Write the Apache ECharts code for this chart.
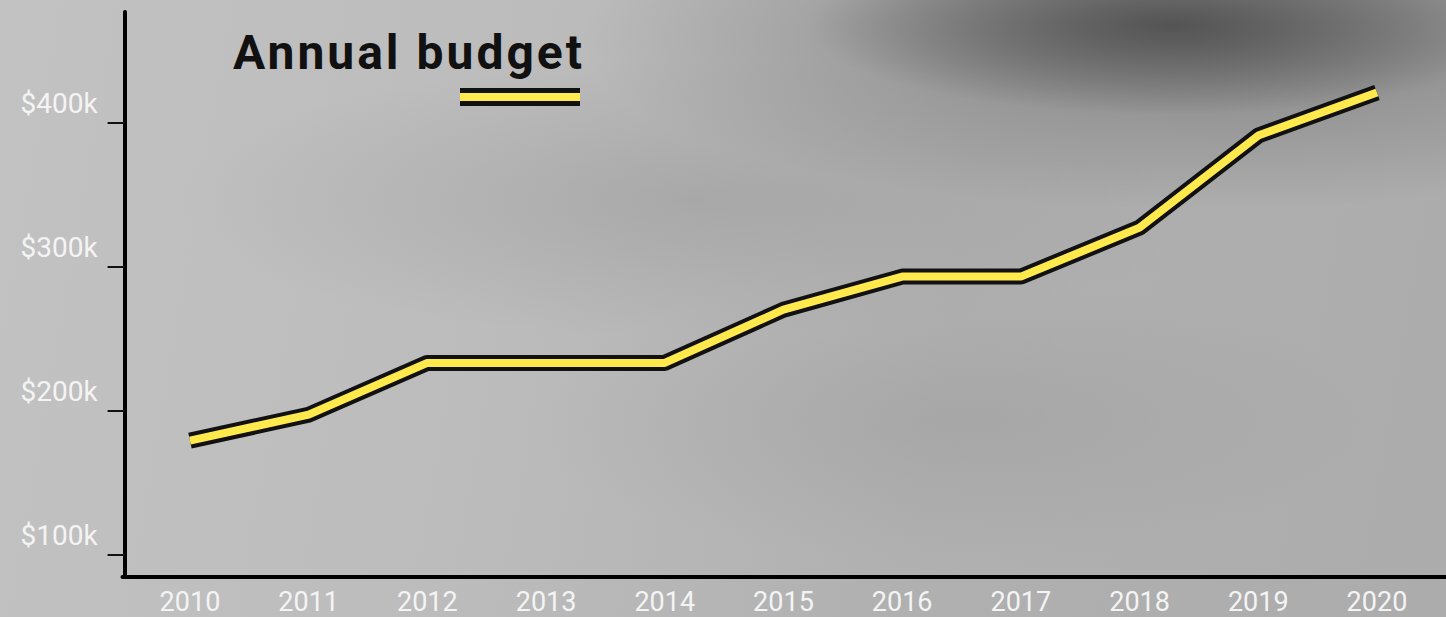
<!DOCTYPE html>
<html>
<head>
<meta charset="utf-8">
<script src="https://cdn.jsdelivr.net/npm/echarts@6/dist/echarts.min.js"></script>
<style>
  html, body { margin: 0; padding: 0; }
  #chart {
    width: 1446px; height: 617px;
    background:
      radial-gradient(ellipse 360px 90px at 1170px 25px, rgba(75,75,75,0.85), rgba(75,75,75,0) 100%),
      radial-gradient(ellipse 620px 170px at 1200px 40px, rgba(95,95,95,0.55), rgba(95,95,95,0) 100%),
      radial-gradient(ellipse 520px 140px at 700px 200px, rgba(140,140,140,0.35), rgba(140,140,140,0) 100%),
      radial-gradient(ellipse 420px 140px at 950px 420px, rgba(150,150,150,0.35), rgba(150,150,150,0) 100%),
      linear-gradient(100deg, #c2c2c2 0%, #bcbcbc 35%, #b0b0b0 65%, #acacac 100%);
  }
  #chart text[style*="48px"] { letter-spacing: 3px; }
</style>
</head>
<body>
<div id="chart"></div>
<script>
const categories = ['2010', '2011', '2012', '2013', '2014', '2015', '2016', '2017', '2018', '2019', '2020'];
const budget = [179, 197, 233, 233, 233, 270, 293, 293, 327, 391, 421];
const yTickValues = [100, 200, 300, 400];
const yTickLabels = ['$100k', '$200k', '$300k', '$400k'];

const iconSvg = 'data:image/svg+xml;charset=utf-8,' + encodeURIComponent(
  '<svg xmlns="http://www.w3.org/2000/svg" width="120" height="18" viewBox="0 0 120 18">' +
  '<rect x="0" y="0" width="120" height="18" fill="#111111"/>' +
  '<rect x="0" y="5" width="120" height="8" fill="#ffe94d"/></svg>');

const chart = echarts.init(document.getElementById('chart'), null, { renderer: 'svg' });
chart.setOption({
  animation: false,
  backgroundColor: 'transparent',
  title: {
    text: 'Annual budget',
    left: 233, top: 28, padding: 0,
    textStyle: { fontFamily: 'Roboto', fontSize: 48, fontWeight: 'bold', color: '#111111' }
  },
  legend: {
    data: [{ name: 'Annual budget', icon: 'image://' + iconSvg }],
    left: 460, top: 88, padding: 0,
    itemWidth: 120, itemHeight: 18,
    formatter: function () { return ''; },
    selectedMode: false
  },
  grid: [
    { left: 130.6, right: 9.7, top: 12, bottom: 40 },
    { left: 122.5, right: 0, top: 12, bottom: 40 }
  ],
  xAxis: [
    {
      type: 'category', gridIndex: 0, data: categories, boundaryGap: true,
      axisLine: { show: false }, axisTick: { show: false },
      axisLabel: { color: '#f4f4f4', fontFamily: 'Roboto', fontSize: 27, margin: 15, lineHeight: 20, verticalAlign: 'top' },
      splitLine: { show: false }
    },
    {
      type: 'value', gridIndex: 1, min: 0, max: 1,
      axisLine: { show: true, lineStyle: { color: '#000000', width: 4 } },
      axisTick: { show: false }, axisLabel: { show: false }, splitLine: { show: false }
    }
  ],
  yAxis: [
    {
      type: 'value', gridIndex: 0, min: 84.2, max: 476.9, offset: 6,
      axisLine: { show: true, lineStyle: { color: '#000000', width: 4 } },
      axisTick: { show: true, length: 17, customValues: yTickValues, lineStyle: { color: '#111111', width: 2 } },
      axisLabel: {
        customValues: yTickValues,
        color: '#f4f4f4', fontFamily: 'Roboto', fontSize: 28, margin: 27,
        verticalAlign: 'bottom', lineHeight: 38,
        formatter: function (v) { const i = yTickValues.indexOf(v); return i >= 0 ? yTickLabels[i] : ''; }
      },
      splitLine: { show: false }
    },
    {
      type: 'value', gridIndex: 1, show: false
    }
  ],
  series: [
    {
      name: 'Annual budget', type: 'line', data: budget, xAxisIndex: 0, yAxisIndex: 0,
      symbol: 'none', lineStyle: { color: '#111111', width: 16, cap: 'butt' }, z: 2, silent: true
    },
    {
      name: 'Annual budget', type: 'line', data: budget, xAxisIndex: 0, yAxisIndex: 0,
      symbol: 'none', lineStyle: { color: '#ffe94d', width: 8, cap: 'butt' }, z: 3, silent: true
    }
  ]
});
</script>
</body>
</html>
